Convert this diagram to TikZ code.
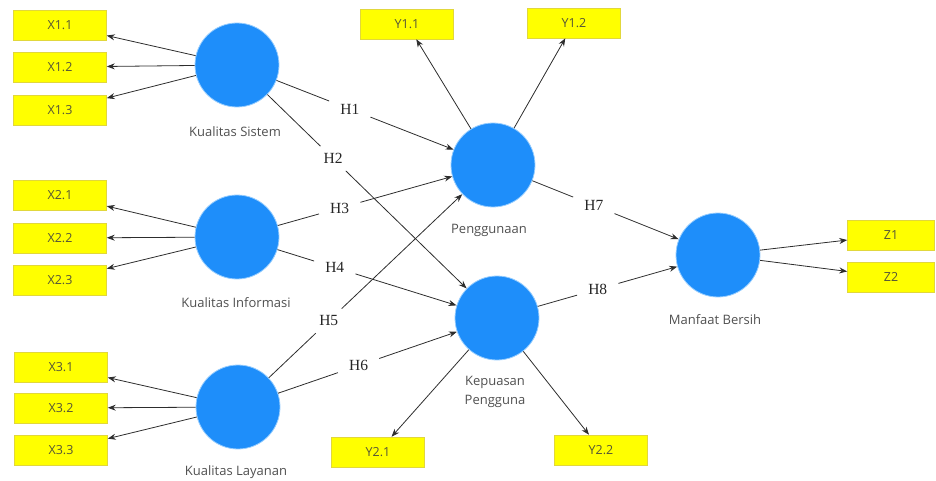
\documentclass[tikz,border=0pt]{standalone}
\usepackage{fontspec}
\setmainfont{Liberation Serif}
\newfontfamily\lblfont{Open Sans}
\usetikzlibrary{arrows.meta}
\definecolor{lvblue}{RGB}{30,142,250}
\definecolor{lvrim}{RGB}{150,205,255}
\definecolor{indfill}{RGB}{255,255,0}
\definecolor{indrim}{RGB}{225,215,60}
\definecolor{indtext}{RGB}{85,85,55}
\definecolor{labtext}{RGB}{80,80,80}
\definecolor{linecol}{RGB}{45,45,45}
\begin{document}
\begin{tikzpicture}[x=1pt,y=-1pt,
  lv/.style={circle,fill=lvblue,draw=lvrim,line width=0.8pt,minimum size=84pt,inner sep=0pt},
  ind/.style={rectangle,fill=indfill,draw=indrim,line width=0.5pt,minimum width=93pt,minimum height=30pt,inner sep=0pt,font=\lblfont\fontsize{12.5}{14}\selectfont,text=indtext},
  lvlab/.style={font=\lblfont\fontsize{13}{19}\selectfont,text=labtext,align=center,inner sep=0pt},
  hlab/.style={font=\fontsize{15.5}{17}\selectfont,text=black!85,inner xsep=11pt,inner ysep=7pt},
  conn/.style={draw=linecol,line width=0.8pt},
  arr/.style={conn,-{Stealth[length=8pt,width=6pt]}}]
\useasboundingbox (0,0) rectangle (936,481);

% latent variables
\node[lv] (KS) at (237,65) {};
\node[lv] (KI) at (237,237) {};
\node[lv] (KL) at (238,407) {};
\node[lv] (P)  at (493,165) {};
\node[lv] (K)  at (497,318) {};
\node[lv] (M)  at (718,255) {};

% latent labels
\node[lvlab] (tKS) at (235,132) {Kualitas Sistem};
\node[lvlab] (tKI) at (236,303) {Kualitas Informasi};
\node[lvlab] (tKL) at (236,472) {Kualitas Layanan};
\node[lvlab] (tP)  at (489,230) {Penggunaan};
\node[lvlab] (tK)  at (495,392) {Kepuasan\\Pengguna};
\node[lvlab] (tM)  at (715,320) {Manfaat Bersih};

% indicators
\node[ind] (X11) at (60,25) {X1.1};
\node[ind] (X12) at (60,67) {X1.2};
\node[ind] (X13) at (60,110) {X1.3};
\node[ind] (X21) at (60,195) {X2.1};
\node[ind] (X22) at (60,238) {X2.2};
\node[ind] (X23) at (60,280) {X2.3};
\node[ind] (X31) at (61,367) {X3.1};
\node[ind] (X32) at (61,408) {X3.2};
\node[ind] (X33) at (61,450) {X3.3};
\node[ind] (Y11) at (407,24) {Y1.1};
\node[ind] (Y12) at (574,23) {Y1.2};
\node[ind] (Y21) at (378,452) {Y2.1};
\node[ind] (Y22) at (601,450) {Y2.2};
\node[ind,minimum width=87pt] (Z1) at (891,235) {Z1};
\node[ind,minimum width=87pt] (Z2) at (891,277) {Z2};

% outer loadings
\foreach \s/\t in {KS/X11,KS/X12,KS/X13,KI/X21,KI/X22,KI/X23,KL/X31,KL/X32,KL/X33,P/Y11,P/Y12,K/Y21,K/Y22,M/Z1,M/Z2}
  \draw[arr] (\s) -- (\t);

% hypothesis labels placed on the paths
\path (KS) -- (P) node[hlab,pos=0.414] (h1) {H1};
\path (KS) -- (K) node[hlab,pos=0.33] (h2) {H2};
\path (KI) -- (P) node[hlab,pos=0.355] (h3) {H3};
\path (KI) -- (K) node[hlab,pos=0.32] (h4) {H4};
\path (KL) -- (P) node[hlab,pos=0.31] (h5) {H5};
\path (KL) -- (K) node[hlab,pos=0.45] (h6) {H6};
\path (P) -- (M) node[hlab,pos=0.42] (h7) {H7};
\path (K) -- (M) node[hlab,pos=0.43] (h8) {H8};

% structural paths
\draw[conn] (KS) -- (h1); \draw[arr] (h1) -- (P);
\draw[conn] (KS) -- (h2); \draw[arr] (h2) -- (K);
\draw[conn] (KI) -- (h3); \draw[arr] (h3) -- (P);
\draw[conn] (KI) -- (h4); \draw[arr] (h4) -- (K);
\draw[conn] (KL) -- (h5); \draw[arr] (h5) -- (P);
\draw[conn] (KL) -- (h6); \draw[arr] (h6) -- (K);
\draw[conn] (P) -- (h7); \draw[arr] (h7) -- (M);
\draw[conn] (K) -- (h8); \draw[arr] (h8) -- (M);
\end{tikzpicture}
\end{document}
